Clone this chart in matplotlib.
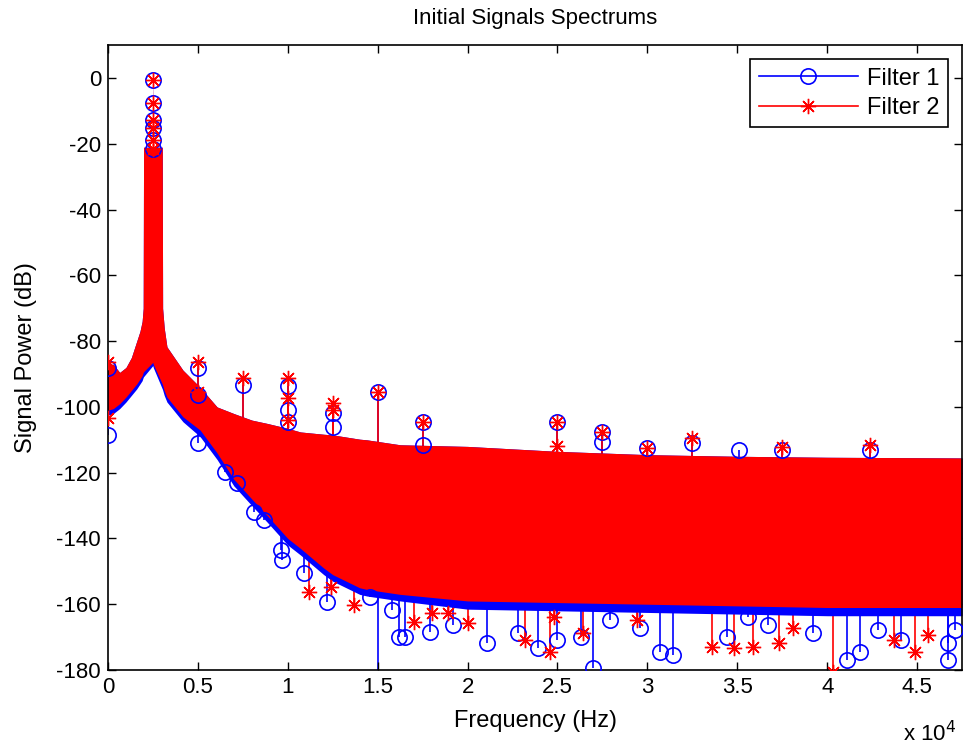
import numpy as np
import matplotlib.pyplot as plt
from matplotlib.lines import Line2D
from matplotlib.ticker import FuncFormatter

plt.rcParams['font.family'] = ['Liberation Sans', 'DejaVu Sans']
plt.rcParams['axes.unicode_minus'] = False

# envelope of the dense spectrum band (Hz, dB)
env_freq = [0, 300, 650, 1000, 1300, 1600, 1780, 1900, 1960, 1980, 2480, 2500, 2520,
            3020, 3040, 3130, 3280, 4170, 5120, 6070, 7000, 8000, 8850, 10000, 10700,
            12000, 12500, 14000, 14400, 16250, 20000, 25000, 30000, 35000, 40000, 47500]
red_top = [-87, -87, -89.5, -88, -85, -80, -77, -74, -70, -21, -21, 0, -21,
           -21, -70, -76, -81.7, -88.8, -94, -100, -102, -104, -105, -106.5, -107.6,
           -108.3, -108.5, -109.8, -110, -111.5, -112, -113.5, -114.5, -115, -115.3, -115.5]
red_bot = [-101, -100.5, -99, -97, -95, -93, -91.5, -90.5, -89.5, -89.3, -86.5, -86.5, -87,
           -93, -93.3, -95, -97, -103, -107, -114, -122, -128, -133, -140, -143,
           -149, -151, -155, -155.5, -157, -159, -159.5, -160, -160.5, -161, -161]
blue_bot = [-102.5, -102, -100.5, -98.5, -96.5, -94.5, -93, -92, -91, -90.8, -87.5, -87.5, -88,
            -94.5, -94.8, -96.5, -98.5, -104.5, -109, -116, -124, -130, -135, -142, -145,
            -151, -153, -157, -157.5, -159, -161.5, -162, -162.5, -163, -163.5, -163.5]

# main peak markers at 2.5 kHz
peak_freq = 2500
peak_db = [-0.5, -7.5, -12.8, -15.2, -18.8, -21.5]

# Filter 1 outliers
f1_freq = [0, 5000, 5000, 7500, 10000, 10000, 10000, 12500, 12500, 15000, 17500, 17500,
           25000, 27500, 27500, 30000, 32500, 35100, 37500, 42400,
           0, 5000, 6500, 7200, 8100, 8700, 9600, 9700, 10900, 12200, 14600, 15800,
           16200, 16500, 17900, 19200, 21100, 22800, 23900, 25000, 26300, 27000, 27900,
           29600, 30700, 31400, 34400, 35600, 36700, 39200, 41100, 41800, 42800, 44100,
           46700, 46700, 47100, 15000]
f1_db = [-88, -88.1, -96.4, -93.3, -93.7, -100.9, -104.6, -101.8, -106, -95.4, -104.6, -111.6,
         -104.6, -107.6, -110.6, -112.5, -111, -113, -113, -113,
         -108.5, -111, -119.8, -123, -131.9, -134.3, -143.5, -146.5, -150.5, -159.3, -157.8, -161.7,
         -169.9, -169.9, -168.4, -166.3, -171.7, -168.7, -173.3, -170.8, -169.9, -179.3, -164.7,
         -167.2, -174.5, -175.4, -169.9, -163.8, -166.3, -168.7, -176.9, -174.5, -167.8, -170.8,
         -176.9, -171.7, -167.8, -195]

# Filter 2 outliers
f2_freq = [0, 5000, 5000, 7500, 10000, 10000, 10000, 12500, 12500, 15000, 17500,
           25000, 25000, 27500, 30000, 32500, 37500, 42400,
           0, 11200, 12400, 13700, 17000, 18000, 18900, 20000, 23200, 24600, 24800, 26400,
           29400, 33600, 34800, 35900, 37300, 38100, 40300, 43700, 44900, 45600]
f2_db = [-86.3, -86.3, -95.4, -91.2, -91.2, -97.3, -104, -98.8, -100.9, -95.4, -104.6,
         -104.6, -112, -107.6, -112.5, -109.4, -112.2, -111.6,
         -103.3, -156.2, -154.7, -160.2, -165.3, -162.6, -162.6, -165.7, -170.8, -174.5, -163.8, -168.7,
         -164.7, -173, -173.4, -173, -171.8, -167.2, -180.5, -170.8, -174.5, -169.3]

fig = plt.figure(figsize=(9.64, 7.49), dpi=100)
ax = fig.add_axes([0.112, 0.1055, 0.886, 0.834])

band_mid = (np.array(red_top) + np.array(red_bot)) / 2

# stems from outliers into the band
ax.vlines(f1_freq, f1_db, np.interp(f1_freq, env_freq, band_mid), color='b', lw=1.2, zorder=1)
ax.vlines(f2_freq, f2_db, np.interp(f2_freq, env_freq, band_mid), color='r', lw=1.2, zorder=1.1)

ax.fill_between(env_freq, blue_bot, red_top, color='b', lw=0, zorder=2)
ax.fill_between(env_freq, red_bot, red_top, color='r', lw=0, zorder=2.1)

star = (8, 2, 0)
ax.plot(f1_freq, f1_db, 'o', ls='none', mec='b', mfc='none', ms=11, mew=1.2, zorder=3)
ax.plot([peak_freq] * len(peak_db), peak_db, 'o', mec='b', mfc='none', ms=11, mew=1.2, zorder=3)
ax.plot(f2_freq, f2_db, marker=star, ls='none', color='r', ms=11, mew=1.0, zorder=3.1)
ax.plot([peak_freq] * len(peak_db), peak_db, marker=star, ls='none', color='r', ms=11, mew=1.0, zorder=3.1)

ax.set_xlim(0, 47500)
ax.set_ylim(-180, 10)
ax.set_xticks(np.arange(0, 47500, 5000))
ax.set_yticks(np.arange(-180, 1, 20))
ax.xaxis.set_major_formatter(FuncFormatter(lambda v, p: '%g' % (v / 1e4)))
ax.tick_params(direction='in', top=True, right=True, labelsize=16, length=6, width=1, pad=5)
for s in ax.spines.values():
    s.set_linewidth(1.2)

ax.set_title('Initial Signals Spectrums', fontsize=16, pad=15)
ax.set_xlabel('Frequency (Hz)', fontsize=17, labelpad=9)
ax.set_ylabel('Signal Power (dB)', fontsize=17, labelpad=14)
fig.text(0.937, 0.004, r'x 10$^{4}$', fontsize=16, ha='left', va='bottom')

handles = [Line2D([], [], color='b', marker='o', mfc='none', ms=11, mew=1.2, lw=1.2),
           Line2D([], [], color='r', marker=star, ms=11, mew=1.0, lw=1.2)]
leg = ax.legend(handles, ['Filter 1', 'Filter 2'], loc='upper right', fontsize=17,
                fancybox=False, edgecolor='k', framealpha=1, handlelength=4.2,
                handletextpad=0.4, borderaxespad=0.6, labelspacing=0.3, borderpad=0.35)
leg.get_frame().set_linewidth(1.2)

fig.savefig('out.png', dpi=100)
